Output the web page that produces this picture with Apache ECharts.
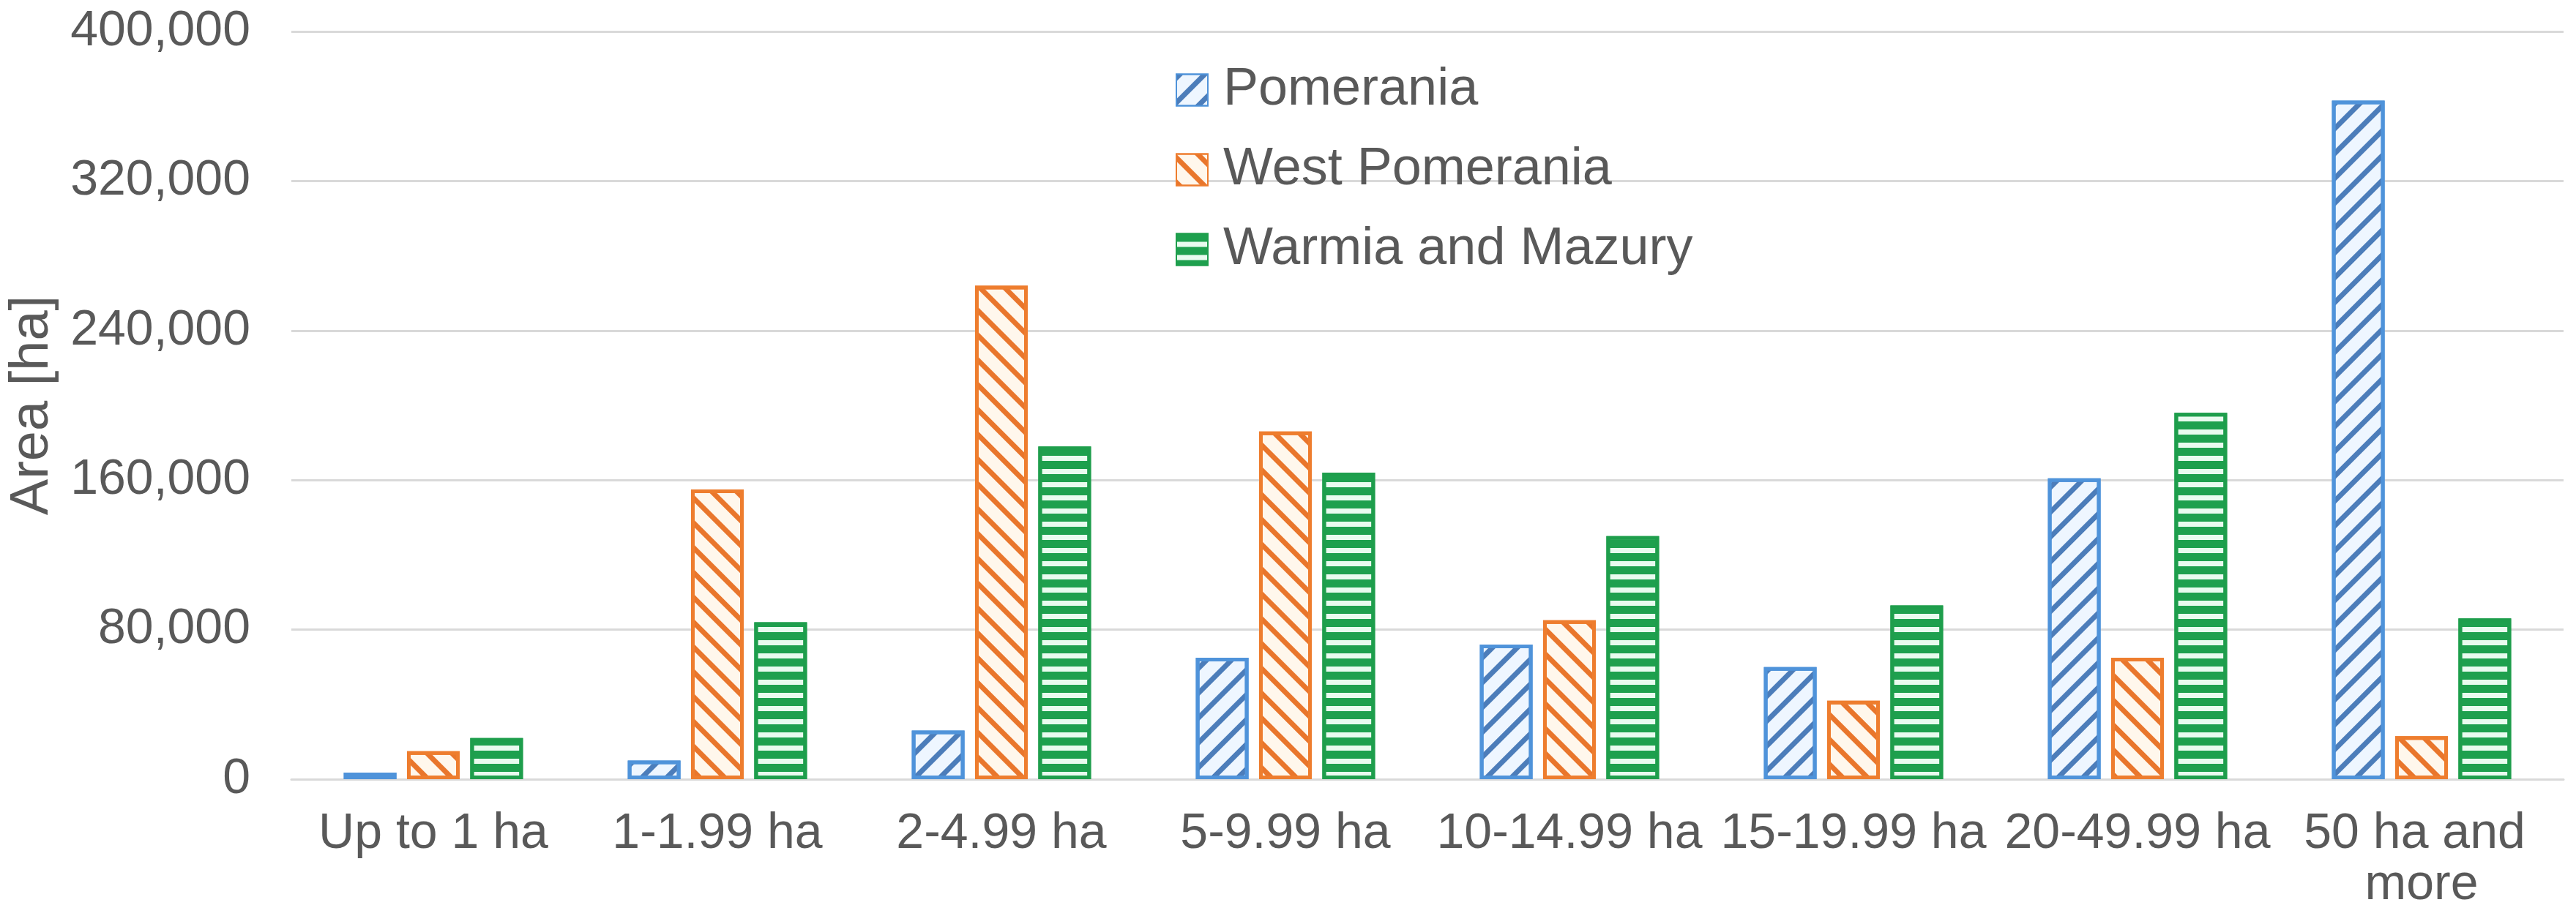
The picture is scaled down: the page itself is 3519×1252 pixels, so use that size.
<!DOCTYPE html>
<html>
<head>
<meta charset="utf-8">
<script src="https://cdn.jsdelivr.net/npm/echarts@6/dist/echarts.min.js"></script>
<style>
html,body{margin:0;padding:0;background:#fff;}
#chart{width:3519px;height:1252px;}
</style>
</head>
<body>
<div id="chart"></div>
<script>
const categories = ['Up to 1 ha', '1-1.99 ha', '2-4.99 ha', '5-9.99 ha', '10-14.99 ha', '15-19.99 ha', '20-49.99 ha', '50 ha and more'];
const seriesNames = ['Pomerania', 'West Pomerania', 'Warmia and Mazury'];
const pomerania = [3500, 10000, 26000, 65000, 72000, 60000, 161000, 363000];
const westPomerania = [15000, 155000, 264000, 186000, 85000, 42000, 65000, 23000];
const warmiaMazury = [22000, 84000, 178000, 164000, 130000, 93000, 196000, 86000];
const yTicks = [0, 80000, 160000, 240000, 320000, 400000];

const FONT = 'Liberation Sans, Arial, sans-serif';
const TEXT = '#595959';

const styles = [
  {fill: '#EEF6FF', border: '#4F93DA', stripe: '#4C7DBA', decal: {symbol: 'rect', symbolSize: 1, dashArrayX: [1, 0], dashArrayY: [7, 17], rotation: -Math.PI / 4}},
  {fill: '#FFF7EC', border: '#EE7D2E', stripe: '#E9762C', decal: {symbol: 'rect', symbolSize: 1, dashArrayX: [1, 0], dashArrayY: [7, 17], rotation: Math.PI / 4}},
  {fill: '#E9FBEF', border: '#1E9E4C', stripe: '#1EA04E', decal: {symbol: 'rect', symbolSize: 1, dashArrayX: [1, 0], dashArrayY: [11, 7], rotation: 0}}
];
const dataSets = [pomerania, westPomerania, warmiaMazury];

const chart = echarts.init(document.getElementById('chart'), null, {renderer: 'canvas'});
chart.setOption({
  animation: false,
  backgroundColor: '#ffffff',
  aria: {enabled: true, decal: {show: true}},
  grid: {left: 398, right: 17, top: 43, bottom: 187, containLabel: false},
  legend: {
    orient: 'vertical',
    left: 1601,
    top: 82,
    itemWidth: 43,
    itemHeight: 43,
    itemGap: 37,
    icon: 'rect',
    textStyle: {fontFamily: FONT, fontSize: 72, color: TEXT, lineHeight: 72, padding: [0, 0, 0, 16]},
    data: seriesNames
  },
  xAxis: {
    type: 'category',
    data: categories,
    axisLine: {show: true, lineStyle: {color: '#D9D9D9', width: 3}},
    axisTick: {show: false},
    axisLabel: {
      interval: 0,
      fontFamily: FONT,
      fontSize: 68,
      color: TEXT,
      margin: 40,
      lineHeight: 70,
      width: 388,
      overflow: 'break'
    }
  },
  yAxis: {
    type: 'value',
    min: yTicks[0],
    max: yTicks[yTicks.length - 1],
    interval: yTicks[1] - yTicks[0],
    name: 'Area [ha]',
    nameLocation: 'middle',
    nameRotate: 90,
    nameGap: 316,
    nameTextStyle: {fontFamily: FONT, fontSize: 74, color: TEXT},
    axisLine: {show: false},
    axisTick: {show: false},
    axisLabel: {
      fontFamily: FONT,
      fontSize: 68,
      color: TEXT,
      margin: 56,
      formatter: v => v.toLocaleString('en-US')
    },
    splitLine: {lineStyle: {color: '#D9D9D9', width: 3}}
  },
  series: dataSets.map((d, i) => ({
    name: seriesNames[i],
    type: 'bar',
    data: d,
    barWidth: 72,
    barGap: '20%',
    itemStyle: {
      color: styles[i].fill,
      borderColor: styles[i].border,
      borderWidth: 5,
      decal: Object.assign({color: styles[i].stripe}, styles[i].decal)
    }
  }))
});
</script>
</body>
</html>
